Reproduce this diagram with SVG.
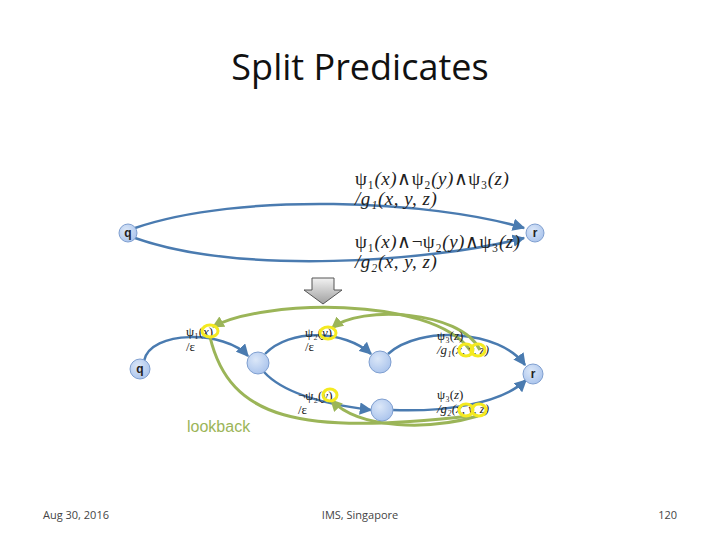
<svg xmlns="http://www.w3.org/2000/svg" width="720" height="540" viewBox="0 0 720 540">
<defs>
<radialGradient id="ng" cx="40%" cy="35%" r="70%"><stop offset="0" stop-color="#dbe7f8"/><stop offset="1" stop-color="#a9c3ec"/></radialGradient>
<linearGradient id="ag" x1="0" y1="0" x2="0" y2="1"><stop offset="0" stop-color="#f2f2f2"/><stop offset="1" stop-color="#a0a0a0"/></linearGradient>
<marker id="ab" viewBox="0 0 10 10" refX="9" refY="5" markerWidth="5" markerHeight="5" orient="auto"><path d="M0,0L10,5L0,10z" fill="#4a7bb0"/></marker>
<marker id="agm" viewBox="0 0 10 10" refX="9" refY="5" markerWidth="4" markerHeight="4" orient="auto"><path d="M0,0L10,5L0,10z" fill="#9bb558"/></marker>
</defs>
<style>
.n{fill:url(#ng);stroke:#7f9fd0;stroke-width:1}
.e{fill:none;stroke:#4a7bb0;stroke-width:2.5;marker-end:url(#ab)}
.g{fill:none;stroke:#9bb558;stroke-width:3}
.ga{fill:none;stroke:#9bb558;stroke-width:3;marker-end:url(#agm)}
.y{fill:none;stroke:#f4ea20;stroke-width:3}
.m{font-family:"Liberation Serif",serif;font-size:19px;fill:#222;letter-spacing:0.5px}
.s{font-family:"Liberation Serif",serif;font-size:13px;fill:#222}
.l{font-family:"Liberation Sans",sans-serif;font-size:12px;font-weight:bold;fill:#222;text-anchor:middle}
.f{font-family:"Open Sans",sans-serif;font-size:11px;fill:#444}
</style>
<text x="360" y="80" font-family="Open Sans, sans-serif" font-size="36" text-anchor="middle" fill="#111">Split Predicates</text>
<g id="connectors">
<path class="e" d="M135,228 C240,192 430,200 524,228"/>
<path class="e" d="M135,238 C240,275 430,262 524,238"/>
<path class="e" d="M144,361 C150,330 225,330 248,356"/>
<path class="e" d="M265,354 C290,328 345,330 371,354"/>
<path class="e" d="M388,354 C420,325 500,330 525,365"/>
<path class="e" d="M264,372 C285,395 330,405 371,410"/>
<path class="e" d="M392,410 C440,412 500,405 526,380"/>
<path class="ga" d="M470,350 C430,295 260,300 213,327"/>
<path class="ga" d="M480,350 C460,310 360,305 332,328"/>
<path class="g" d="M210,337 C230,420 300,435 470,416"/>
<path class="ga" d="M478,416 C430,430 360,430 331,400"/>
</g>
<path d="M312,278h22v12h8l-19,14l-19,-14h8z" fill="url(#ag)" stroke="#555" stroke-width="1"/>
<g id="q1"><circle class="n" cx="128" cy="233" r="9"/><text class="l" x="128" y="237">q</text></g>
<g id="r1"><circle class="n" cx="535" cy="233" r="9"/><text class="l" x="535" y="237">r</text></g>
<g id="q2"><circle class="n" cx="140" cy="369" r="10"/><text class="l" x="140" y="373">q</text></g>
<g id="r2"><circle class="n" cx="533" cy="374" r="10"/><text class="l" x="533" y="378">r</text></g>
<g id="n1"><circle class="n" cx="258" cy="363" r="11"/></g>
<g id="n2"><circle class="n" cx="380" cy="362" r="11"/></g>
<g id="n3"><circle class="n" cx="382" cy="410" r="11"/></g>
<text class="m" x="355" y="185">ψ₁<tspan font-style="italic">(x)</tspan>∧ψ₂<tspan font-style="italic">(y)</tspan>∧ψ₃<tspan font-style="italic">(z)</tspan></text>
<text class="m" x="355" y="205" font-style="italic">/g₁(x, y, z)</text>
<text class="m" x="355" y="248">ψ₁<tspan font-style="italic">(x)</tspan>∧¬ψ₂<tspan font-style="italic">(y)</tspan>∧ψ₃<tspan font-style="italic">(z)</tspan></text>
<text class="m" x="355" y="268" font-style="italic">/g₂(x, y, z)</text>
<text class="s" x="186" y="336">ψ₁(<tspan font-style="italic">x</tspan>)</text><text class="s" x="186" y="351">/ε</text>
<text class="s" x="305" y="337">ψ₂(<tspan font-style="italic">y</tspan>)</text><text class="s" x="305" y="351">/ε</text>
<text class="s" x="437" y="340">ψ₃(<tspan font-style="italic">z</tspan>)</text><text class="s" x="437" y="354" font-style="italic">/g₁(x, y, z)</text>
<text class="s" x="298" y="400">¬ψ₂(<tspan font-style="italic">y</tspan>)</text><text class="s" x="298" y="414">/ε</text>
<text class="s" x="437" y="399">ψ₃(<tspan font-style="italic">z</tspan>)</text><text class="s" x="437" y="413" font-style="italic">/g₂(x, y, z)</text>
<ellipse class="y" cx="210" cy="331" rx="8" ry="6"/>
<ellipse class="y" cx="328" cy="333" rx="8" ry="6"/>
<ellipse class="y" cx="466" cy="350" rx="7" ry="6"/>
<ellipse class="y" cx="478" cy="350" rx="7" ry="6"/>
<ellipse class="y" cx="330" cy="395" rx="7" ry="6"/>
<ellipse class="y" cx="466" cy="410" rx="7" ry="6"/>
<ellipse class="y" cx="479" cy="410" rx="7" ry="6"/>
<text x="187" y="432" font-family="Liberation Sans, sans-serif" font-size="16" fill="#9bb558">lookback</text>
<text class="f" x="43" y="519">Aug 30, 2016</text>
<text class="f" x="360" y="519" text-anchor="middle">IMS, Singapore</text>
<text class="f" x="677" y="519" text-anchor="end">120</text>
</svg>
